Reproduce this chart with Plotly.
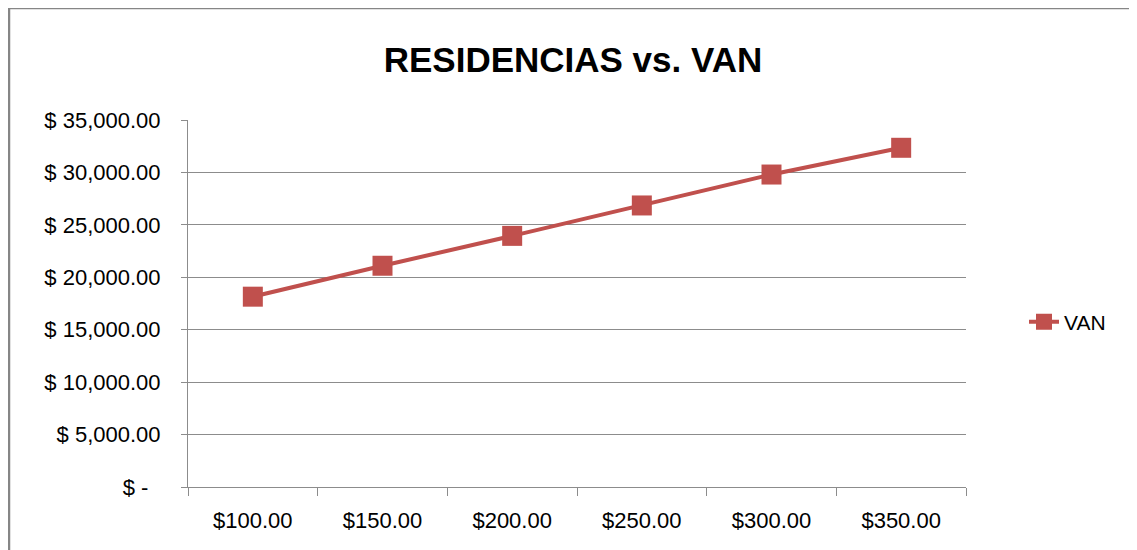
import plotly.graph_objects as go

categories = ["$100.00", "$150.00", "$200.00", "$250.00", "$300.00", "$350.00"]
van_values = [18150, 21100, 23950, 26850, 29800, 32350]
y_tick_vals = [0, 5000, 10000, 15000, 20000, 25000, 30000, 35000]
y_tick_text = ["$ -  ", "$ 5,000.00", "$ 10,000.00", "$ 15,000.00", "$ 20,000.00",
               "$ 25,000.00", "$ 30,000.00", "$ 35,000.00"]

# page is offset by the 8px body margin
OFF = 8
W, H = 1137, 550
L = 188 - OFF
T = 120 - OFF
plot_bottom = 487 - OFF
plot_right = 966 - OFF
R = W - plot_right
B = H - plot_bottom
pw, ph = W - L - R, H - T - B

fig = go.Figure()
fig.add_trace(go.Scatter(
    x=categories, y=van_values, name="VAN", mode="lines+markers",
    line=dict(color="#C0504D", width=4),
    marker=dict(symbol="square", size=20, color="#C0504D"),
))

grid = "#8C8C8C"
font_family = "Liberation Sans, Arial, sans-serif"
fig.update_layout(
    width=W, height=H,
    margin=dict(l=L, r=R, t=T, b=B, pad=0),
    paper_bgcolor="white", plot_bgcolor="white",
    font=dict(family=font_family, color="#000000"),
    title=dict(text="<b>RESIDENCIAS vs. VAN</b>", x=(573 - OFF) / W, xanchor="center",
               y=1 - (60 - OFF) / H, yanchor="middle",
               font=dict(size=35, family=font_family, color="#000000")),
    showlegend=True,
    legend=dict(x=(1024 - OFF - L) / pw, xanchor="left",
                y=(plot_bottom - (322 - OFF)) / ph, yanchor="middle",
                font=dict(size=21), bgcolor="rgba(0,0,0,0)"),
    xaxis=dict(type="category", range=[-0.5, 5.5], tickson="boundaries",
               showgrid=False, showline=True, linecolor=grid, linewidth=1,
               ticks="outside", ticklen=8, tickcolor=grid,
               tickfont=dict(size=22), zeroline=False, ticklabelstandoff=14),
    yaxis=dict(range=[0, 35000], tickvals=y_tick_vals, ticktext=y_tick_text,
               showgrid=True, gridcolor=grid, gridwidth=1,
               showline=True, linecolor=grid, linewidth=1,
               ticks="outside", ticklen=6, tickcolor=grid,
               tickfont=dict(size=22), zeroline=False, ticklabelstandoff=16),
    shapes=[dict(type="rect", xref="paper", yref="paper",
                 x0=(1 - L) / pw, x1=(W + 20 - L) / pw,
                 y0=-(B + 20) / ph, y1=(H - B) / ph + 0.0,
                 line=dict(color="#868686", width=2.5), fillcolor="rgba(0,0,0,0)", layer="below")],
)

fig.write_html("out.html")
